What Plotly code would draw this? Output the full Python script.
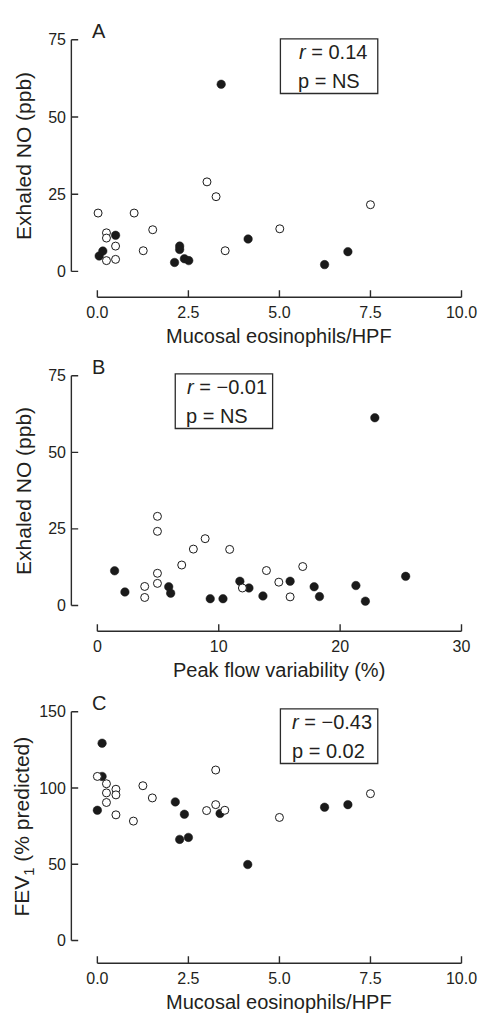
import plotly.graph_objects as go

# ---------------- data ----------------
A_open_x = [0.02, 1.01, 0.25, 0.25, 0.5, 0.25, 0.5, 1.52, 1.26, 3.01, 3.26, 3.51, 5.01, 7.5]
A_open_y = [18.9, 18.9, 12.5, 10.8, 8.2, 3.5, 3.9, 13.5, 6.7, 29.0, 24.2, 6.7, 13.8, 21.6]
A_filled_x = [0.05, 0.15, 0.5, 2.26, 2.26, 2.12, 2.39, 2.51, 3.40, 4.14, 6.88, 6.24]
A_filled_y = [5.0, 6.6, 11.7, 8.2, 7.1, 2.9, 4.1, 3.5, 60.6, 10.5, 6.4, 2.2]

B_open_x = [4.95, 4.95, 8.88, 7.91, 10.9, 6.95, 4.95, 4.95, 3.9, 3.9, 11.95, 13.93, 14.95, 15.88, 16.92]
B_open_y = [29.1, 24.2, 21.8, 18.4, 18.3, 13.2, 10.5, 7.2, 6.2, 2.6, 5.7, 11.4, 7.6, 2.8, 12.7]
B_filled_x = [1.42, 2.27, 5.88, 6.04, 9.3, 10.35, 11.74, 12.49, 13.64, 15.88, 17.86, 18.3, 21.3, 22.08, 25.4, 22.86]
B_filled_y = [11.3, 4.4, 6.1, 4.0, 2.2, 2.2, 7.9, 5.7, 3.1, 7.9, 6.1, 2.9, 6.5, 1.4, 9.5, 61.3]

C_open_x = [0.0, 0.25, 0.25, 0.25, 0.51, 0.51, 0.51, 0.99, 1.25, 1.51, 3.0, 3.25, 3.25, 3.5, 5.0, 7.5]
C_open_y = [107.6, 102.8, 96.8, 90.5, 99.2, 95.5, 82.4, 78.3, 101.5, 93.5, 85.2, 89.1, 111.8, 85.4, 80.7, 96.3]
C_filled_x = [0.13, 0.13, 0.0, 2.14, 2.39, 2.26, 2.5, 3.37, 4.13, 6.24, 6.88]
C_filled_y = [129.4, 107.6, 85.4, 90.9, 82.8, 66.3, 67.6, 83.3, 49.8, 87.4, 89.1]

eos_ticks = [0, 2.5, 5, 7.5, 10]
eos_ticktext = ["0.0", "2.5", "5.0", "7.5", "10.0"]
pef_ticks = [0, 10, 20, 30]
no_ticks = [0, 25, 50, 75]
fev_ticks = [0, 50, 100, 150]

panel_letters = ["A", "B", "C"]
x_titles = ["Mucosal eosinophils/HPF", "Peak flow variability (%)", "Mucosal eosinophils/HPF"]
y_titles = ["Exhaled NO (ppb)", "Exhaled NO (ppb)", "FEV<sub>1</sub> (% predicted)"]
stats_r = ["<i>r</i> = 0.14", "<i>r</i> = \u22120.01", "<i>r</i> = \u22120.43"]
stats_p = ["p = NS", "p = NS", "p = 0.02"]

# ---------------- layout helpers ----------------
W, H = 493, 1015
def fx(p):
    return p / W
def fy(p):
    return 1 - p / H

FONT = "Liberation Sans, Arial, Helvetica, sans-serif"
TXT = "#231f20"
INK = "#1a1a1a"
LINE = "#2b2b2b"
LW = 1.4
XL, XR = 100, 474   # pixel extent of the x value range
YAX_X = 73.3        # pixel x of the (offset) y-axis line
TICK = 7            # tick length, px
PAD = 2.5           # extra room so the axis lines sit inside the plotting area

fig = go.Figure()

panels = [
    dict(ox=A_open_x, oy=A_open_y, fxv=A_filled_x, fyv=A_filled_y, xr=[0, 10], xt=eos_ticks, xtt=eos_ticktext,
         yr=[0, 75], yt=no_ticks, top=34, bot=267, xline=293, box=(288, 388, 33, 88), tx=(305, 304)),
    dict(ox=B_open_x, oy=B_open_y, fxv=B_filled_x, fyv=B_filled_y, xr=[0, 30], xt=pef_ticks, xtt=[str(v) for v in pef_ticks],
         yr=[0, 75], yt=no_ticks, top=372, bot=603, xline=629, box=(180, 280, 370, 425), tx=(190, 189)),
    dict(ox=C_open_x, oy=C_open_y, fxv=C_filled_x, fyv=C_filled_y, xr=[0, 10], xt=eos_ticks, xtt=eos_ticktext,
         yr=[0, 150], yt=fev_ticks, top=710, bot=940, xline=963, box=(288, 388, 707, 762), tx=(298, 298)),
]

annotations = []
shapes = []
for i, p in enumerate(panels):
    n = "" if i == 0 else str(i + 1)
    xa, ya = "x" + n, "y" + n
    r0, r1 = p["xr"]
    s0, s1 = p["yr"]
    kx = (XR - XL) / (r1 - r0)               # px per x unit
    ky = (p["bot"] - p["top"]) / (s1 - s0)   # px per y unit
    # extended ranges so that the offset axis lines fall inside each subplot
    x_lo = r0 - (XL - YAX_X + PAD) / kx
    x_hi = r1 + PAD / kx
    y_lo = s0 - (p["xline"] - p["bot"] + PAD) / ky
    y_hi = s1 + PAD / ky
    yline_x = r0 - (XL - YAX_X) / kx          # data x of the y-axis line
    xline_y = s0 - (p["xline"] - p["bot"]) / ky  # data y of the x-axis line

    # axis lines and inward ticks as line traces
    ax_x = [r0, r1, None, yline_x, yline_x]
    ax_y = [xline_y, xline_y, None, s0, s1]
    for t in p["xt"]:
        ax_x += [None, t, t]
        ax_y += [None, xline_y, xline_y + TICK / ky]
    for t in p["yt"]:
        ax_x += [None, yline_x, yline_x + TICK / kx]
        ax_y += [None, t, t]
    fig.add_trace(go.Scatter(x=ax_x, y=ax_y, mode="lines", xaxis=xa, yaxis=ya, hoverinfo="skip",
                             line=dict(color=LINE, width=LW), showlegend=False, connectgaps=False))

    fig.add_trace(go.Scatter(x=p["fxv"], y=p["fyv"], mode="markers", xaxis=xa, yaxis=ya, cliponaxis=False,
                             marker=dict(size=8.5, color=INK, line=dict(color=INK, width=0.5)), showlegend=False))
    fig.add_trace(go.Scatter(x=p["ox"], y=p["oy"], mode="markers", xaxis=xa, yaxis=ya, cliponaxis=False,
                             marker=dict(size=8, color="white", line=dict(color=INK, width=1)), showlegend=False))

    axis_common = dict(showline=False, ticks="", showgrid=False, zeroline=False,
                       tickfont=dict(family=FONT, size=16, color=TXT))
    fig.update_layout({
        "xaxis" + n: dict(axis_common, domain=[fx(YAX_X - PAD), fx(XR + PAD)], range=[x_lo, x_hi],
                          tickvals=p["xt"], ticktext=p["xtt"], anchor=ya, ticklabelstandoff=1),
        "yaxis" + n: dict(axis_common, domain=[fy(p["xline"] + PAD), fy(p["top"] - PAD)], range=[y_lo, y_hi],
                          tickvals=p["yt"], anchor=xa, ticklabelstandoff=2),
    })

    # titles
    annotations.append(dict(text=x_titles[i], x=fx(287), y=fy(p["xline"] + 39), xref="paper", yref="paper",
                            showarrow=False, font=dict(family=FONT, size=20, color=TXT), xanchor="center", yanchor="middle"))
    annotations.append(dict(text=y_titles[i], x=fx(24), y=fy((p["top"] + p["bot"]) / 2), xref="paper", yref="paper",
                            showarrow=False, textangle=-90, font=dict(family=FONT, size=21, color=TXT),
                            xanchor="center", yanchor="middle"))
    annotations.append(dict(text=panel_letters[i], x=fx(92), y=fy(p["top"] - 9), xref="paper", yref="paper",
                            showarrow=False, font=dict(family=FONT, size=20, color=TXT), xanchor="left", yanchor="middle"))
    # stats box
    x0, x1, y0, y1 = p["box"]
    shapes.append(dict(type="rect", xref="paper", yref="paper", x0=fx(x0), x1=fx(x1), y0=fy(y1), y1=fy(y0),
                       line=dict(color=LINE, width=1.3)))
    annotations.append(dict(text=stats_r[i], x=fx(p["tx"][0]), y=fy(y0 + 13), xref="paper", yref="paper",
                            showarrow=False, font=dict(family=FONT, size=20, color=TXT), xanchor="left", yanchor="middle"))
    annotations.append(dict(text=stats_p[i], x=fx(p["tx"][1]), y=fy(y0 + 42), xref="paper", yref="paper",
                            showarrow=False, font=dict(family=FONT, size=20, color=TXT), xanchor="left", yanchor="middle"))

fig.update_layout(width=W, height=H, margin=dict(l=0, r=0, t=0, b=0), paper_bgcolor="white", plot_bgcolor="white",
                  annotations=annotations, shapes=shapes, showlegend=False)
fig.write_html("out.html", config={"displayModeBar": False},
               post_script="document.body.style.margin='0px';")
